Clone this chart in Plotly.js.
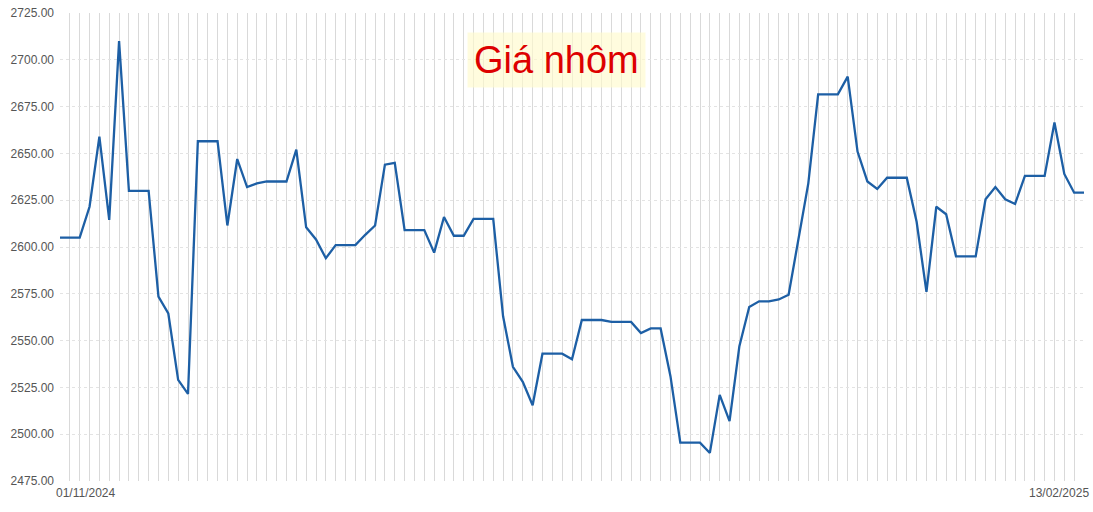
<!DOCTYPE html>
<html>
<head>
<meta charset="utf-8">
<script src="https://cdn.plot.ly/plotly-3.0.1.min.js"></script>
<style>
  html, body { margin: 0; padding: 0; background: #fff; }
  #chart { width: 1093px; height: 512px; }
</style>
</head>
<body>
<div id="chart"></div>
<script>
// giá nhôm, 01/11/2024 -> 13/02/2025, one point per calendar day
var startDate = '2024-11-01';
var prices = [
    2605, 2605, 2605, 2621.5, 2659, 2614.5, 2710, 2630, 2630, 2630,
    2573.5, 2564.5, 2529, 2521.5, 2656.5, 2656.5, 2656.5, 2611.5, 2647, 2632,
    2634, 2635, 2635, 2635, 2652, 2610.5, 2604, 2594, 2601, 2601,
    2601, 2606.5, 2611.5, 2644, 2645, 2609, 2609, 2609, 2597, 2616,
    2606, 2606, 2615, 2615, 2615, 2563, 2536, 2528, 2515.5, 2543,
    2543, 2543, 2540, 2561, 2561, 2561, 2560, 2560, 2560, 2554,
    2556.5, 2556.5, 2531, 2495.5, 2495.5, 2495.5, 2490, 2521, 2507, 2547,
    2568, 2571, 2571, 2572, 2574.5, 2604, 2634, 2681.5, 2681.5, 2681.5,
    2691, 2651, 2635, 2631, 2637, 2637, 2637, 2613.5, 2576, 2621.5,
    2617.5, 2595, 2595, 2595, 2625.5, 2632, 2625.5, 2623, 2638, 2638,
    2638, 2666.5, 2639, 2629, 2629
];
var yTicks = [2475, 2500, 2525, 2550, 2575, 2600, 2625, 2650, 2675, 2700, 2725];
var chartTitle = 'Giá nhôm';
var firstLabel = '01/11/2024';
var lastLabel = '13/02/2025';

function dayList(start, n) {
    var out = [];
    var d = new Date(start + 'T00:00:00Z');
    for (var i = 0; i < n; i++) {
        out.push(d.toISOString().slice(0, 10));
        d.setUTCDate(d.getUTCDate() + 1);
    }
    return out;
}

var dates = dayList(startDate, prices.length);

var trace = {
    x: dates,
    y: prices,
    type: 'scatter',
    mode: 'lines',
    line: {color: '#1d5fa5', width: 2.3},
    hoverinfo: 'x+y'
};

var layout = {
    width: 1093,
    height: 512,
    margin: {l: 60, r: 9, t: 13, b: 31},
    paper_bgcolor: '#fff',
    plot_bgcolor: '#fff',
    showlegend: false,
    font: {family: 'Liberation Sans, Arial, sans-serif', color: '#555', size: 12},
    xaxis: {
        type: 'date',
        range: [dates[0], dates[dates.length - 1]],
        tick0: dates[0],
        dtick: 86400000,
        showticklabels: false,
        ticks: '',
        showgrid: true,
        gridcolor: '#d9d9d9',
        gridwidth: 1,
        zeroline: false,
        showline: false
    },
    yaxis: {
        range: [2475, 2725],
        tickvals: yTicks,
        ticktext: yTicks.map(function (v) { return v.toFixed(2); }),
        ticks: '',
        ticklabelstandoff: 5,
        tickfont: {size: 12, color: '#555'},
        showgrid: true,
        gridcolor: '#e3e3e3',
        griddash: 'dot',
        gridwidth: 1,
        zeroline: false,
        showline: false
    },
    annotations: [
        {
            x: dates[0], y: 0, xref: 'x', yref: 'paper',
            xanchor: 'left', yanchor: 'top', xshift: -6, yshift: -3,
            showarrow: false, text: firstLabel,
            font: {size: 12, color: '#555'}
        },
        {
            x: dates[dates.length - 1], y: 0, xref: 'x', yref: 'paper',
            xanchor: 'right', yanchor: 'top', xshift: 7, yshift: -3,
            showarrow: false, text: lastLabel,
            font: {size: 12, color: '#555'}
        },
        {
            x: 0.485, y: 0.9, xref: 'paper', yref: 'paper',
            xanchor: 'center', yanchor: 'middle',
            showarrow: false, text: chartTitle,
            bgcolor: 'rgba(255, 250, 205, 0.65)',
            borderpad: 6,
            font: {size: 38, color: '#dd0000', family: 'Liberation Sans, Arial, sans-serif'}
        }
    ]
};

Plotly.newPlot('chart', [trace], layout, {displayModeBar: false, staticPlot: true});
</script>
</body>
</html>
